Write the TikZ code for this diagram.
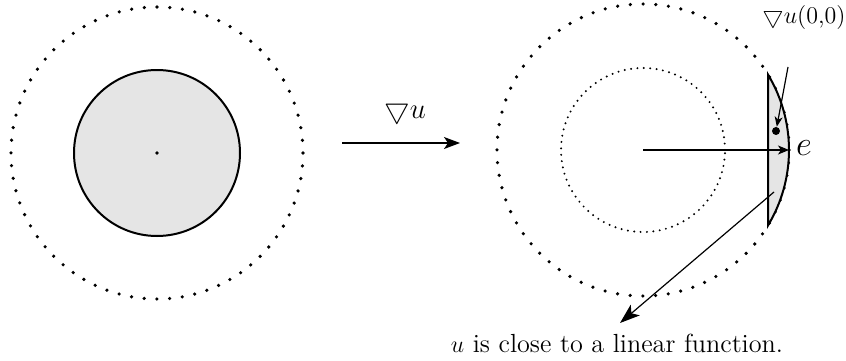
\documentclass[tikz,border=0pt]{standalone}
\usetikzlibrary{arrows.meta}
\begin{document}
\begin{tikzpicture}
  [x=0.5pt,y=0.5pt,
   bigdots/.style={line width=1.8pt,line cap=round,dash pattern=on 0pt off 6.37pt},
   smalldots/.style={line width=1.1pt,line cap=round,dash pattern=on 0pt off 3.2pt},
   arr/.style={line width=0.6pt,-{Stealth[length=8pt,width=6pt,inset=2pt]}},
   dot/.style={circle,fill=black,inner sep=0pt,minimum size=#1},
   lbl/.style={inner sep=0pt}]
\useasboundingbox (0,0) rectangle (846,360);
  % left disc
  \coordinate (cl) at (157,207);
  \draw[bigdots] (cl) circle (73pt);
  \draw[fill=black!10,line width=1pt] (cl) circle (41.5pt);
  \node[dot=1.8pt] (c0) at (cl) {};

  % map
  \coordinate (a1) at (342,217);
  \coordinate (a2) at (460,217);
  \draw[arr] (a1) -- (a2);
  \node[lbl] (grad) at (405,249) {\fontsize{15.5}{18}\selectfont$\bigtriangledown u$};

  % right disc
  \coordinate (cr) at (643,210);
  \draw[bigdots] (cr) circle (73pt);
  \draw[smalldots] (cr) circle (41pt);
  \draw[fill=black!10,line width=1pt] (768,285.4) arc[start angle=31.1,end angle=-31.1,radius=73pt] -- cycle;

  \coordinate (tip) at (789,210);
  \draw[line width=0.6pt,-{Stealth[length=5.5pt,width=4.5pt,inset=1.5pt]}] (cr) -- (tip);
  \node[lbl] (e) at (804,212) {\fontsize{16.5}{18}\selectfont$e$};

  \node[dot=4pt] (pt) at (776,229) {};
  \node[lbl] (gz) at (804,342) {\fontsize{12}{14}\selectfont$\bigtriangledown u$(0,0)};
  \coordinate (g1) at (788,293);
  \draw[line width=0.6pt,-{Stealth[length=5pt,width=4pt,inset=1.5pt]}] (g1) -- (pt);

  \coordinate (b1) at (774,168);
  \coordinate (b2) at (620,37);
  \draw[line width=0.6pt,-{Stealth[length=10pt,width=7pt,inset=2.5pt]}] (b1) -- (b2);
  \node[lbl] (lin) at (617,17) {\fontsize{13.1}{15}\selectfont$u$ is close to a linear function.};
\end{tikzpicture}
\end{document}
